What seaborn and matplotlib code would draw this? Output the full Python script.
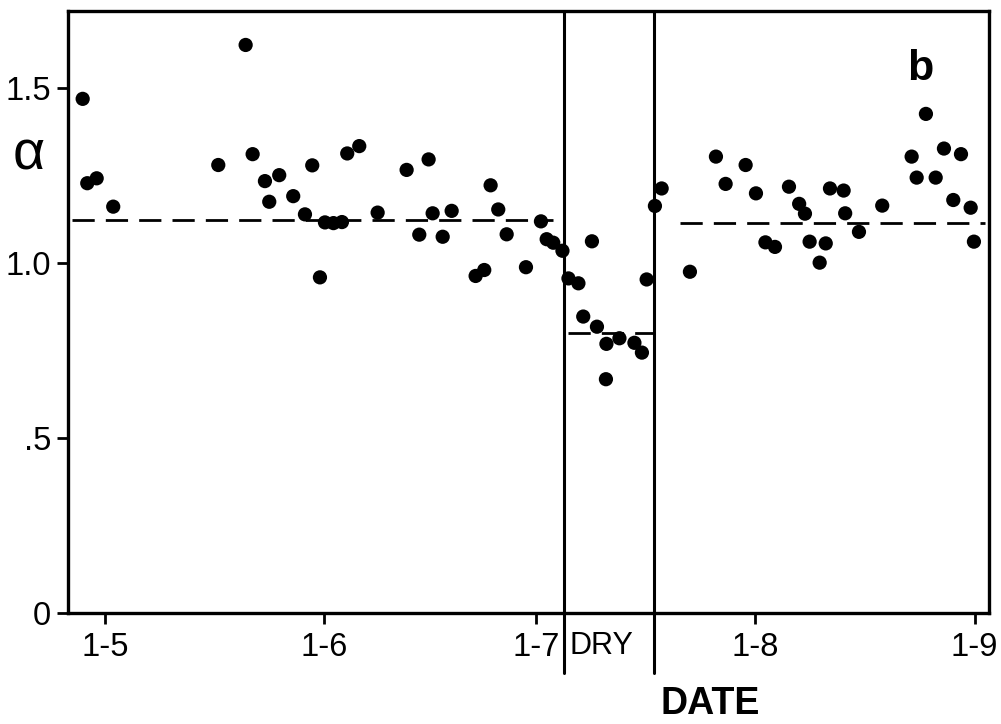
import matplotlib
matplotlib.use("Agg")
import matplotlib.pyplot as plt
import seaborn as sns
import pandas as pd

# ---- data (days since 1 May, alpha) ----
day = [-3.15, -2.50, -1.17, 1.17, 16.03, 19.90, 20.89, 22.63, 23.24, 24.65,
       26.63, 28.29, 29.32, 30.41, 31.12, 32.32, 33.52, 34.27, 35.97, 38.57,
       42.67, 44.46, 45.78, 46.35, 47.77, 49.04, 52.43, 53.65, 54.55, 55.63,
       56.82, 59.55, 61.67, 62.48, 63.41, 64.71, 65.56, 66.97, 67.65, 68.88,
       69.59, 70.93, 70.86, 72.77, 74.89, 75.95, 76.62, 77.79, 78.74, 82.74,
       86.42, 87.79, 90.62, 92.08, 93.42, 94.77, 96.75, 98.19, 99.01, 99.67,
       101.09, 101.95, 102.55, 104.48, 104.70, 106.65, 109.94, 114.10, 114.81, 116.12,
       117.50, 118.67, 119.99, 121.08, 122.45, 122.91]
alpha = [1.469, 1.228, 1.242, 1.161, 1.280, 1.623, 1.311, 1.234, 1.175, 1.251,
         1.191, 1.139, 1.279, 0.959, 1.116, 1.114, 1.117, 1.313, 1.334, 1.144,
         1.266, 1.081, 1.296, 1.142, 1.075, 1.149, 0.963, 0.980, 1.222, 1.153,
         1.082, 0.988, 1.119, 1.068, 1.058, 1.035, 0.956, 0.942, 0.847, 1.062,
         0.818, 0.769, 0.668, 0.785, 0.772, 0.744, 0.953, 1.163, 1.213, 0.975,
         1.304, 1.226, 1.280, 1.199, 1.059, 1.046, 1.218, 1.169, 1.141, 1.061,
         1.001, 1.056, 1.213, 1.207, 1.142, 1.089, 1.164, 1.304, 1.244, 1.426,
         1.244, 1.327, 1.180, 1.311, 1.158, 1.061]

tick_days = [0, 31, 61, 92, 123]
tick_labels = ["1-5", "1-6", "1-7", "1-8", "1-9"]
y_ticks = [0, 0.5, 1.0, 1.5]
y_tick_labels = ["0", ".5", "1.0", "1.5"]

dry_start, dry_end = 64.92, 77.65
mean_start = [-4.7, 65.5, 81.3]
mean_end = [63.4, 77.5, 124.5]
mean_value = [1.123, 0.800, 1.114]

# ---- style ----
sns.set_style("ticks")
plt.rcParams['font.family'] = ['Liberation Sans', 'DejaVu Sans']

fig = plt.figure(figsize=(10.01, 7.24), dpi=100)
ax = fig.add_axes([0.0679, 0.1533, 0.9201, 0.8315])

df = pd.DataFrame({"day": day, "alpha": alpha})
sns.scatterplot(data=df, x="day", y="alpha", ax=ax, color="black", s=105,
                edgecolor="none", linewidth=0, zorder=3, legend=False)

for xs, xe, v in zip(mean_start, mean_end, mean_value):
    ax.plot([xs, xe], [v, v], color="black", lw=2.0, dashes=(8, 4), zorder=2)

for xv in (dry_start, dry_end):
    ax.axvline(xv, ymin=-0.1, ymax=1, color="black", lw=2.2, clip_on=False, zorder=4)

ax.set_xlim(-5.23, 125.04)
ax.set_ylim(0, 1.72)
ax.set_xticks(tick_days)
ax.set_xticklabels(tick_labels)
ax.set_yticks(y_ticks)
ax.set_yticklabels(y_tick_labels)
ax.set_xlabel("")
ax.set_ylabel("")
ax.tick_params(direction="out", length=8, width=2, labelsize=23.5, color="black",
               labelcolor="black")
ax.tick_params(axis="x", pad=6)
ax.tick_params(axis="y", pad=4)
for sp in ax.spines.values():
    sp.set_visible(True)
    sp.set_linewidth(2.4)
    sp.set_color("black")

ax.text(70.2, -0.055, "DRY", transform=ax.get_xaxis_transform(), ha="center",
        va="center", fontsize=22, color="black")
fig.text(0.709, 0.0276, "DATE", ha="center", va="center", fontsize=27,
         fontweight="bold", color="black")
fig.text(0.029, 0.785, "α", ha="center", va="center", fontsize=40, color="black")
fig.text(0.919, 0.905, "b", ha="center", va="center", fontsize=31,
         fontweight="bold", color="black")

fig.savefig("out.png", dpi=100, facecolor="white")
